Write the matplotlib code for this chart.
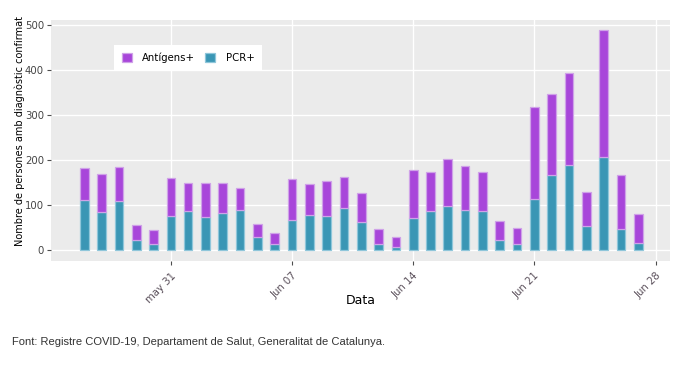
import matplotlib.pyplot as plt
import matplotlib.dates as mdates
import numpy as np
import datetime as dt

# daily confirmed cases, 26 May - 27 Jun
dates = [dt.date(2021, 5, 26) + dt.timedelta(days=i) for i in range(33)]
totals = [183, 169, 184, 56, 46, 161, 150, 149, 150, 139, 59, 39,
          158, 147, 153, 162, 128, 48, 29, 178, 173, 202, 186, 173,
          64, 49, 318, 347, 393, 129, 488, 167, 81]
pcr = [111, 85, 110, 23, 14, 77, 87, 73, 82, 89, 30, 14,
       66, 79, 77, 93, 63, 14, 8, 72, 88, 99, 89, 88,
       23, 14, 113, 167, 189, 54, 206, 47, 16]
antigens = [t - p for t, p in zip(totals, pcr)]

tick_dates = [dt.date(2021, 5, 31), dt.date(2021, 6, 7), dt.date(2021, 6, 14),
              dt.date(2021, 6, 21), dt.date(2021, 6, 28)]
tick_labels = ["may 31", "Jun 07", "Jun 14", "Jun 21", "Jun 28"]

purple = "#a846da"
teal = "#3a96b5"

fig = plt.figure(figsize=(6.85, 3.67), dpi=100)
ax = fig.add_axes([0.0745, 0.2888, 0.9035, 0.6567])
ax.set_facecolor("#ebebeb")

x = mdates.date2num(dates)
ax.bar(x, pcr, width=0.5, color=teal, edgecolor="#8fc6da", linewidth=0.9,
       label="PCR+", zorder=3)
ax.bar(x, antigens, width=0.5, bottom=pcr, color=purple, edgecolor="#cfa2e8",
       linewidth=0.9, label="Antígens+", zorder=3)

ax.set_xlim(mdates.date2num(dt.date(2021, 5, 24)) + 0.08,
            mdates.date2num(dt.date(2021, 6, 28)) + 0.83)
ax.set_ylim(-23.8, 510.4)
ax.set_yticks([0, 100, 200, 300, 400, 500])
ax.set_xticks(mdates.date2num(tick_dates))
ax.set_xticklabels(tick_labels, rotation=45, ha="right", rotation_mode="anchor")
ax.grid(True, color="white", linewidth=1.0, zorder=0)
for s in ax.spines.values():
    s.set_visible(False)
ax.tick_params(axis="both", colors="#4d4d4d", labelsize=7.3, length=3, width=0.8)
ax.tick_params(axis="x", labelcolor="#5a4f5a", pad=4)
ax.tick_params(axis="y", labelcolor="#444444", pad=2)

ax.set_xlabel("Data", fontsize=9)
ax.xaxis.set_label_coords(0.5, -0.162)
ax.xaxis.label.set_va("center")
ax.set_ylabel("Nombre de persones amb diagnòstic confirmat", fontsize=7.0)
ax.yaxis.set_label_coords(-0.042, 0.54)

h, l = ax.get_legend_handles_labels()
leg = ax.legend(h[::-1], l[::-1], loc="upper left", bbox_to_anchor=(0.102, 0.896),
                borderaxespad=0, ncol=2, frameon=True, fancybox=False, fontsize=7.3,
                handlelength=1.0, handleheight=1.0, handletextpad=1.0,
                columnspacing=1.0, borderpad=0.75, edgecolor="white")
leg.get_frame().set_linewidth(0)
leg.get_frame().set_alpha(1)

fig.text(12 / 685, 1 - 342 / 367, "Font: Registre COVID-19, Departament de Salut, Generalitat de Catalunya.",
         fontsize=8, family="Liberation Sans", color="#333333", va="center")

fig.savefig("out.png", dpi=100)
